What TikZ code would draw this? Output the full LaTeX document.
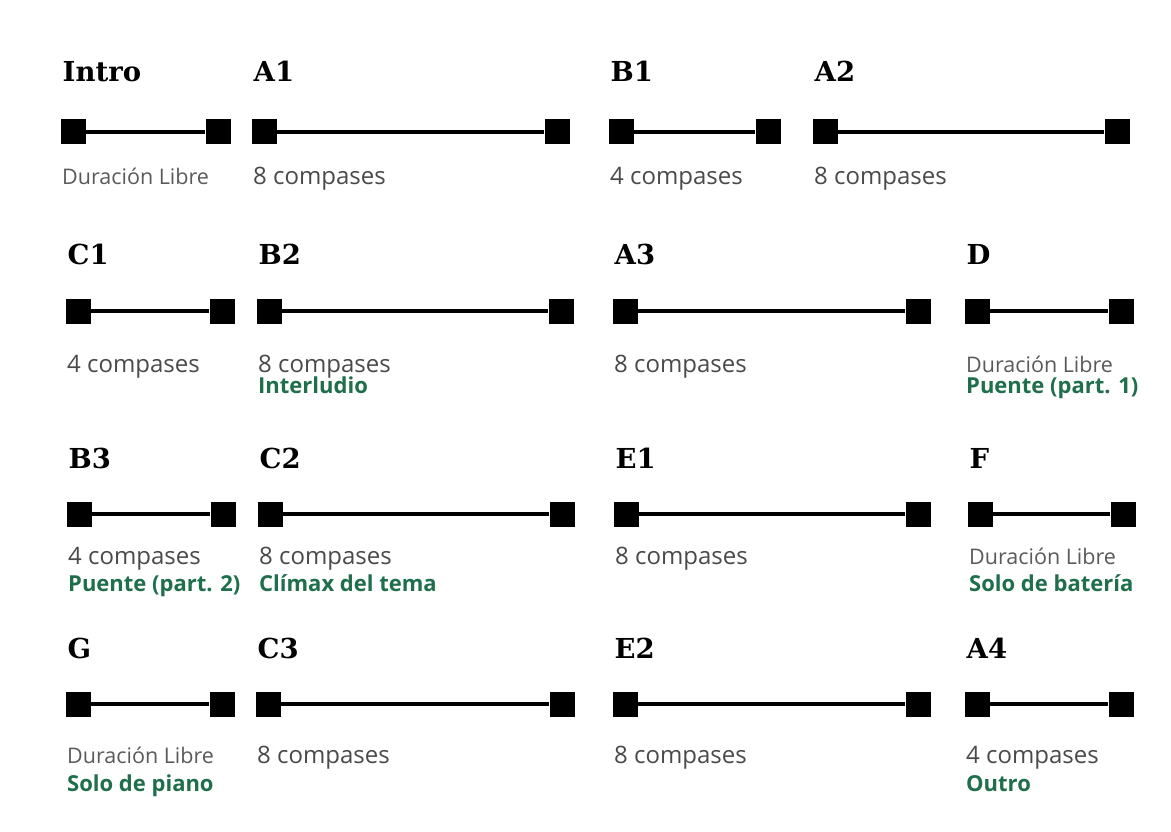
\documentclass[tikz,border=0pt]{standalone}
\usepackage{fontspec}
\setmainfont{Open Sans}
\newfontfamily\headfont{DejaVu Serif}
\definecolor{labelgrey}{HTML}{4A4A4A}
\definecolor{freegrey}{HTML}{5A5A5A}
\definecolor{partgreen}{HTML}{1F6E4C}
\tikzset{
  endsq/.style={rectangle, fill=black, draw=none, minimum size=25pt, inner sep=0pt},
  barline/.style={line width=4.5pt, black},
  headtxt/.style={anchor=base west, inner sep=0pt, font=\headfont\bfseries\fontsize{27.5}{27.5}\selectfont},
  countlbl/.style={anchor=base west, inner sep=0pt, text=labelgrey, font=\fontsize{24}{24}\selectfont},
  freelbl/.style={countlbl, text=freegrey, font=\fontsize{21.5}{21.5}\selectfont},
  partlbl/.style={anchor=base west, inner sep=0pt, text=partgreen, font=\bfseries\fontsize{22}{22}\selectfont},
}
% one section: name, left x, right x, heading, label style, label, part name
\newcommand\segm[7]{%
  \node[endsq] (#1-l) at (#2pt,-\ybar pt) {};
  \node[endsq] (#1-r) at (#3pt,-\ybar pt) {};
  \draw[barline] (#1-l) -- (#1-r);
  \node[headtxt] (#1-h) at ({#2pt-10.5pt},-\yhead pt) {#4};
  \node[#5] (#1-c) at ({#2pt-11pt},-\ylab pt) {#6};
  \if\relax\detokenize{#7}\relax\else
    \node[partlbl] (#1-p) at ({#2pt-11pt},-\ygrn pt) {#7};
  \fi
}
\begin{document}
\begin{tikzpicture}
\useasboundingbox[fill=white] (0pt,0pt) rectangle (1171pt,-832pt);

% row 1
\def\ybar{132}\def\yhead{82}\def\ylab{185}\def\ygrn{206}
\segm{intro}{73}{218}{Intro}{freelbl}{Duración Libre}{}
\segm{aone}{264}{557}{A1}{countlbl}{8 compases}{}
\segm{bone}{621}{768}{B1}{countlbl}{4 compases}{}
\segm{atwo}{825}{1117}{A2}{countlbl}{8 compases}{}

% row 2
\def\ybar{311}\def\yhead{264}\def\ylab{372}\def\ygrn{393}
\segm{cone}{78}{222}{C1}{countlbl}{4 compases}{}
\segm{btwo}{269}{561}{B2}{countlbl}{8 compases}{Interludio}
\segm{athree}{625}{918}{A3}{countlbl}{8 compases}{}
\segm{dd}{977}{1121}{D}{freelbl}{Duración Libre}{Puente (part. 1)}

% row 3
\def\ybar{514}\def\yhead{468}\def\ylab{564}\def\ygrn{591}
\segm{bthree}{79}{223}{B3}{countlbl}{4 compases}{Puente (part. 2)}
\segm{ctwo}{270}{562}{C2}{countlbl}{8 compases}{Clímax del tema}
\segm{eone}{626}{918}{E1}{countlbl}{8 compases}{}
\segm{ff}{980}{1123}{F}{freelbl}{Duración Libre}{Solo de batería}

% row 4
\def\ybar{704}\def\yhead{658}\def\ylab{763}\def\ygrn{791}
\segm{gg}{78}{222}{G}{freelbl}{Duración Libre}{Solo de piano}
\segm{cthree}{268}{562}{C3}{countlbl}{8 compases}{}
\segm{etwo}{625}{918}{E2}{countlbl}{8 compases}{}
\segm{afour}{977}{1121}{A4}{countlbl}{4 compases}{Outro}
\end{tikzpicture}
\end{document}
